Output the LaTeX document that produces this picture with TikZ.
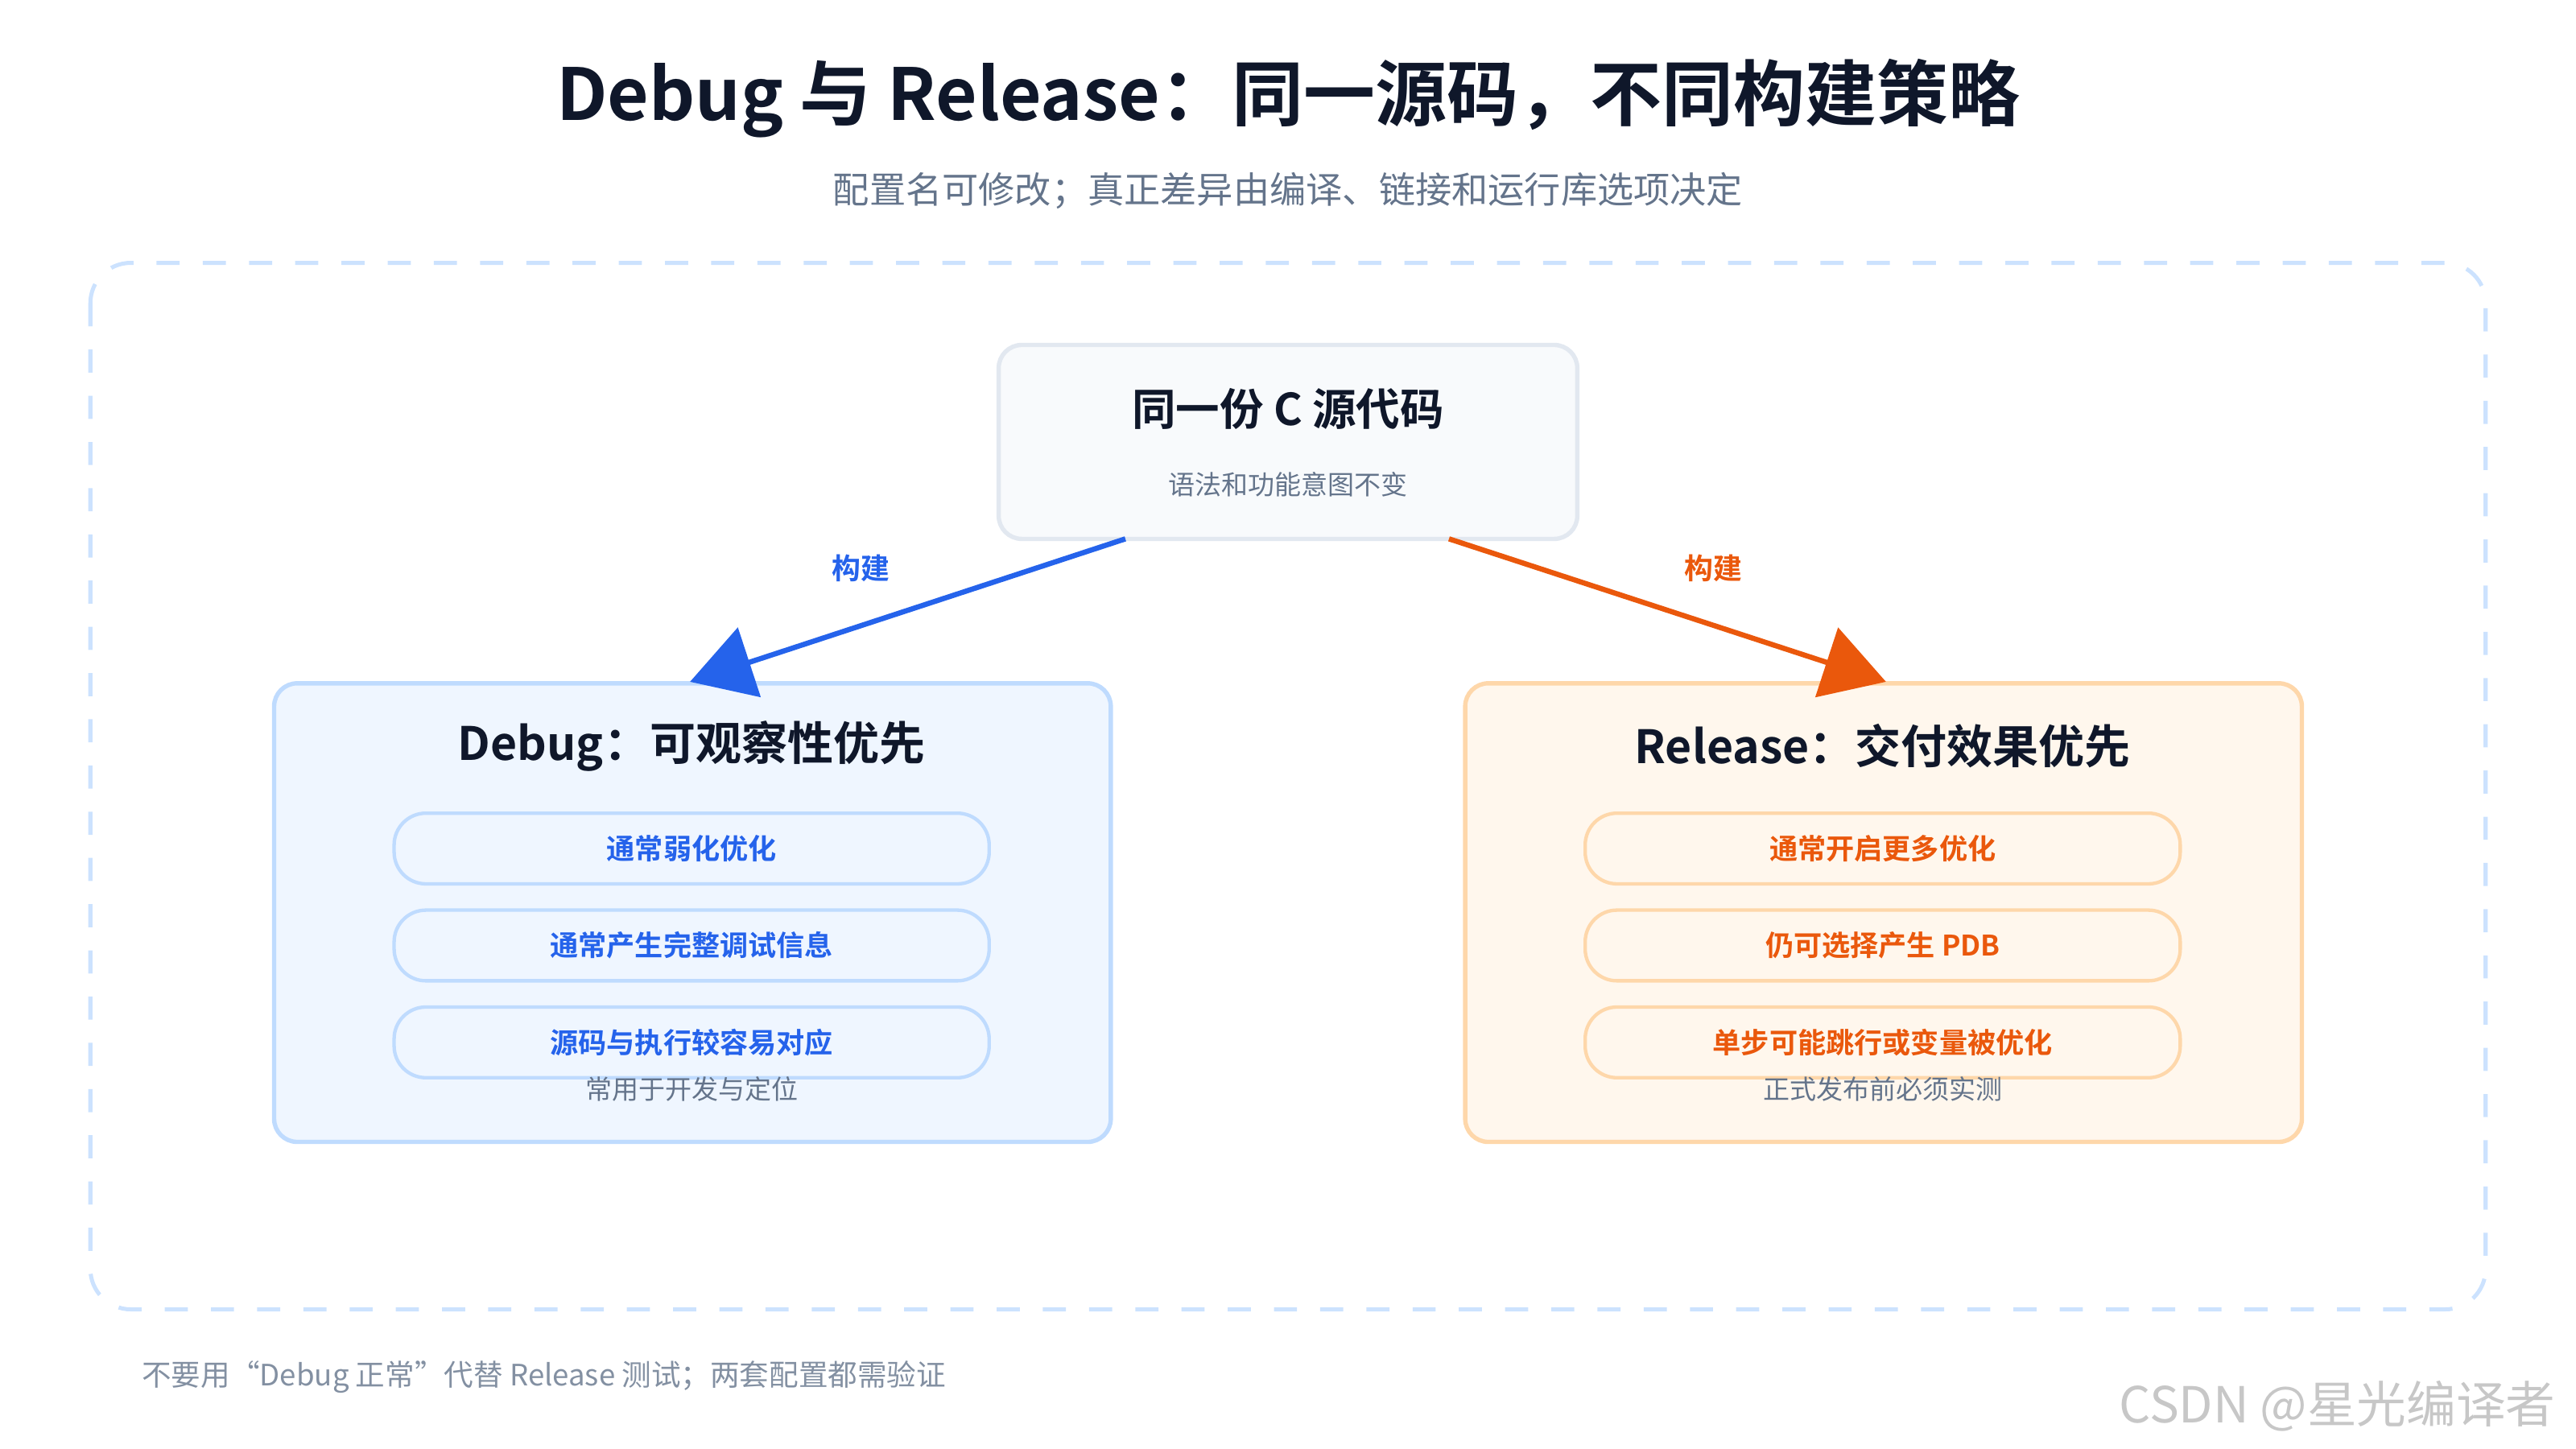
\documentclass[tikz,border=0pt]{standalone}
\usepackage{fontspec}
\setmainfont{Noto Sans CJK SC}[BoldFont={Noto Sans CJK SC Bold}]
\usetikzlibrary{arrows.meta,positioning}
\definecolor{ink}{HTML}{0F172A}
\definecolor{muted}{HTML}{64748B}
\definecolor{dblue}{HTML}{2563EB}
\definecolor{dorange}{HTML}{EA580C}
\definecolor{dbfill}{HTML}{EFF6FF}
\definecolor{dbline}{HTML}{BFDBFE}
\definecolor{rlfill}{HTML}{FFF7ED}
\definecolor{rlline}{HTML}{FED7AA}
\definecolor{srcfill}{HTML}{F8FAFC}
\definecolor{srcline}{HTML}{E2E8F0}
\tikzset{
    panel/.style={
    rectangle,rounded corners=4pt,line width=0.75pt,inner sep=0pt
    },
    pill/.style={
    rectangle,rounded corners=5.5pt,line width=0.6pt,minimum width=3.62cm,minimum height=0.43cm,
    font=\fontsize{4.9}{6}\selectfont\bfseries,inner sep=0pt
    },
    build/.style={
    line width=0.9pt,-{Triangle[length=0.38cm,width=0.44cm]},shorten >=0pt
    },
    note/.style={
    text=muted,font=\fontsize{4.6}{6}\selectfont
    },
}
\begin{document}
\begin{tikzpicture}[x=0.01cm,y=-0.01cm]
   \useasboundingbox (0,0) rectangle (1568,882);
   \node[text=ink,font=\fontsize{12.4}{15}\selectfont\bfseries] (title) at (784,60) {Debug 与 Release：同一源码，不同构建策略};
   \node[text=muted,font=\fontsize{6.3}{8}\selectfont] (sub) at (784,116) {配置名可修改；真正差异由编译、链接和运行库选项决定};
   \draw[dbline!80,line width=0.7pt,rounded corners=7pt,dash pattern=on 4pt off 4pt] (55,160) rectangle (1513,797);
   % source box
   \node[panel,draw=srcline,fill=srcfill,minimum width=3.52cm,minimum height=1.18cm] (src) at (784,269) {};
   \node[text=ink,font=\fontsize{7.6}{9}\selectfont\bfseries] (srct) at (784,249) {同一份 C 源代码};
   \node[note] (srcs) at (784,295) {语法和功能意图不变};
   % debug side
   \node[panel,draw=dbline,fill=dbfill,minimum width=5.09cm,minimum height=2.79cm] (dbg) at (421.5,555.5) {};
   \node[text=ink,font=\fontsize{7.95}{10}\selectfont\bfseries] (dbgt) at (421,454) {Debug：可观察性优先};
   \node[pill,draw=dbline,fill=dbfill,text=dblue] (d1) at (421,516.5) {通常弱化优化};
   \node[pill,draw=dbline,fill=dbfill,text=dblue] (d2) at (421,575.5) {通常产生完整调试信息};
   \node[pill,draw=dbline,fill=dbfill,text=dblue] (d3) at (421,634.5) {源码与执行较容易对应};
   \node[note] (dnote) at (421,663) {常用于开发与定位};
   % release side
   \node[panel,draw=rlline,fill=rlfill,minimum width=5.09cm,minimum height=2.79cm] (rel) at (1146.5,555.5) {};
   \node[text=ink,font=\fontsize{7.95}{10}\selectfont\bfseries] (relt) at (1146,454) {Release：交付效果优先};
   \node[pill,draw=rlline,fill=rlfill,text=dorange] (r1) at (1146,516.5) {通常开启更多优化};
   \node[pill,draw=rlline,fill=rlfill,text=dorange] (r2) at (1146,575.5) {仍可选择产生 PDB};
   \node[pill,draw=rlline,fill=rlfill,text=dorange] (r3) at (1146,634.5) {单步可能跳行或变量被优化};
   \node[note] (rnote) at (1146,663) {正式发布前必须实测};
   % arrows
   \coordinate (sl) at (685,328);
   \coordinate (sr) at (882,328);
   \coordinate (el) at (420,415);
   \coordinate (er) at (1148,415);
   \draw[build,dblue] (sl) -- (el);
   \draw[build,dorange] (sr) -- (er);
   \node[text=dblue,font=\fontsize{5}{6}\selectfont\bfseries] (bl) at (524,346) {构建};
   \node[text=dorange,font=\fontsize{5}{6}\selectfont\bfseries] (br) at (1043,346) {构建};
   % footer
   \node[note,anchor=west,text=muted!80,font=\fontsize{5.1}{6}\selectfont] (foot) at (74,838) {不要用“Debug 正常”代替 Release 测试；两套配置都需验证};
   \node[anchor=east,text=black!22,font=\fontsize{8.6}{10}\selectfont] (wm) at (1568,856) {CSDN @星光编译者};
\end{tikzpicture}
\end{document}
